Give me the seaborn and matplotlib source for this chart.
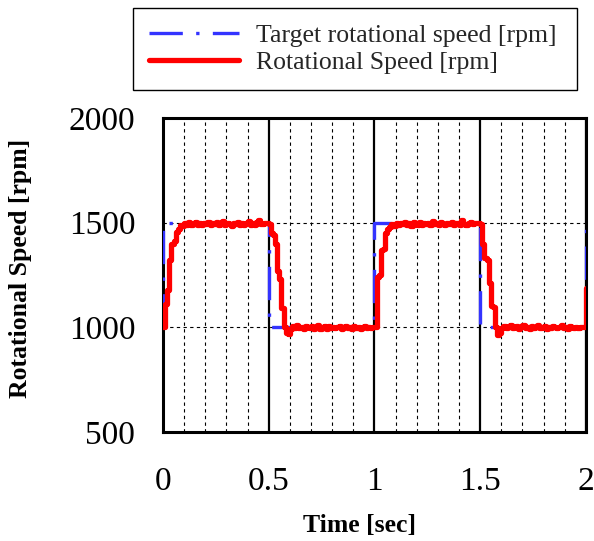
import numpy as np
import matplotlib
matplotlib.use("Agg")
import matplotlib.pyplot as plt
import seaborn as sns
from matplotlib.ticker import MultipleLocator

# target (square wave, 1 s period)
target_time = [0.0, 0.0, 0.5, 0.5, 1.0, 1.0, 1.5, 1.5, 2.0, 2.0]
target_rpm = [1000, 1500, 1500, 1000, 1000, 1500, 1500, 1000, 1000, 1500]

sample_period = 0.01
speed_rpm = [
    # 0.00 - 0.10
    1000, 1110, 1180, 1320, 1400, 1410, 1455, 1470, 1490, 1485, 1500,
    # 0.11 - 0.49
    1490, 1502, 1488, 1498, 1505, 1490, 1496, 1487, 1500, 1493,
    1505, 1489, 1497, 1492, 1503, 1488, 1495, 1510, 1490, 1498,
    1493, 1486, 1500, 1494, 1502, 1490, 1497, 1488, 1499, 1507,
    1491, 1496, 1489, 1504, 1512, 1495, 1492, 1500, 1498,
    # 0.50 - 0.60
    1495, 1450, 1440, 1400, 1270, 1230, 1090, 1000, 975, 970, 990,
    # 0.61 - 0.99
    1005, 998, 1010, 995, 1003, 990, 1008, 1000, 996, 1006,
    992, 1002, 1009, 994, 1000, 1004, 990, 1007, 998, 1003,
    995, 1001, 1008, 993, 1000, 1005, 997, 1002, 990, 1006,
    999, 1003, 994, 1000, 1008, 996, 1002, 998, 1000,
    # 1.00 - 1.10
    1000, 1240, 1250, 1370, 1375, 1450, 1470, 1480, 1495, 1485, 1500,
    # 1.11 - 1.49
    1488, 1500, 1493, 1505, 1490, 1497, 1486, 1502, 1495, 1490,
    1503, 1488, 1498, 1494, 1500, 1489, 1506, 1492, 1497, 1487,
    1501, 1495, 1490, 1499, 1493, 1504, 1488, 1496, 1500, 1491,
    1514, 1495, 1490, 1498, 1502, 1494, 1497, 1500, 1496,
    # 1.50 - 1.60
    1495, 1400, 1330, 1320, 1210, 1100, 1095, 1000, 965, 975, 995,
    # 1.61 - 1.99
    1008, 996, 1004, 1012, 995, 1000, 1006, 993, 1002, 1010,
    997, 1001, 994, 1007, 999, 1003, 1011, 996, 1000, 1005,
    992, 1002, 998, 1006, 1000, 995, 1003, 1009, 997, 1001,
    994, 1004, 1000, 998, 1002, 996, 1000, 1003, 1000,
    # 2.00
    1190,
]
speed_time = np.round(np.arange(len(speed_rpm)) * sample_period, 2)

x_ticks = [0, 0.5, 1, 1.5, 2]
x_ticklabels = ["0", "0.5", "1", "1.5", "2"]
y_ticks = [500, 1000, 1500, 2000]

sns.set_theme(style="white")
plt.rcParams["font.family"] = ["Liberation Serif", "DejaVu Serif"]

fig = plt.figure(figsize=(5.94, 5.41), dpi=100)
ax = fig.add_axes([0.2744, 0.2015, 0.712, 0.5804])

sns.lineplot(x=target_time, y=target_rpm, sort=False, estimator=None,
             color="#3333ff", linewidth=2.4, ax=ax, zorder=3)
target_line = ax.lines[-1]
target_line.set_dashes((10, 4, 1, 4))

sns.lineplot(x=speed_time, y=speed_rpm, sort=False, estimator=None,
             color="#ff0000", linewidth=3.8, drawstyle="steps-post",
             ax=ax, zorder=4)
speed_line = ax.lines[-1]

ax.set_xlim(0, 2)
ax.set_ylim(500, 2000)
ax.set_xticks(x_ticks)
ax.set_xticklabels(x_ticklabels)
ax.xaxis.set_minor_locator(MultipleLocator(0.1))
ax.set_yticks(y_ticks)

ax.set_axisbelow(True)
ax.grid(which="major", axis="x", color="black", linestyle="-", linewidth=1.6)
ax.grid(which="minor", axis="x", color="black", linestyle=(0, (3, 3)), linewidth=0.8)
ax.grid(which="major", axis="y", color="black", linestyle=(0, (3, 3)), linewidth=0.8)

for s in ax.spines.values():
    s.set_visible(True)
    s.set_color("black")
    s.set_linewidth(2.2)

ax.tick_params(axis="both", which="both", length=0, labelsize=24, colors="black")
ax.tick_params(axis="y", pad=20)
ax.tick_params(axis="x", pad=25)

ax.set_xlabel("Time [sec]", fontsize=18.5, fontweight="bold", color="black")
ax.set_ylabel("Rotational Speed [rpm]", fontsize=18.5, fontweight="bold", color="black")
ax.xaxis.set_label_coords(0.465, -0.26)
ax.yaxis.set_label_coords(-0.31, 0.52)

leg = fig.legend([target_line, speed_line],
                 ["Target rotational speed [rpm]", "Rotational Speed [rpm]"],
                 loc="upper left",
                 bbox_to_anchor=(133 / 594, 1 - 8 / 541 - 0.01, 444 / 594, 0.01),
                 mode="expand", fontsize=18.5, frameon=True, fancybox=False,
                 edgecolor="black", framealpha=1, borderaxespad=0,
                 handlelength=3.5, handletextpad=0.65, labelspacing=0.15,
                 borderpad=0.62)
leg.get_frame().set_linewidth(1.0)

fig.savefig("out.png", dpi=100)
